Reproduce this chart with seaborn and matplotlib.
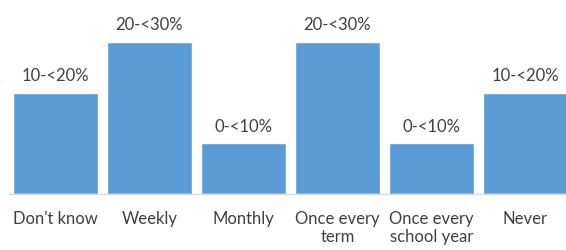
import matplotlib
matplotlib.use("Agg")
import matplotlib.pyplot as plt
import seaborn as sns
import pandas as pd

# ==============================================================
# DATA
# ==============================================================
categories = ["Don't know", "Weekly", "Monthly", "Once every\nterm",
              "Once every\nschool year", "Never"]
heights = [20, 30, 10, 30, 10, 20]
range_labels = ["10-<20%", "20-<30%", "0-<10%", "20-<30%", "0-<10%", "10-<20%"]

df = pd.DataFrame({"category": categories, "value": heights})

# ==============================================================
# PLOT
# ==============================================================
sns.set_style("white")
plt.rcParams['font.family'] = ['Lato', 'DejaVu Sans']

fig = plt.figure(figsize=(5.66, 2.5), dpi=100)
ax = fig.add_axes([8.5 / 566, 56 / 250, 564 / 566, 194 / 250])

sns.barplot(data=df, x="category", y="value", color="#5B9BD5",
            saturation=1, width=0.9, ax=ax)

for i, (h, lab) in enumerate(zip(heights, range_labels)):
    ax.text(i, h + 1.7, lab, ha="center", va="bottom",
            fontsize=12, color="#404040")

ax.set_xlim(-0.5, 5.5)
ax.set_ylim(0, 30 * 194 / 152)
ax.set_xlabel("")
ax.set_ylabel("")
ax.set_yticks([])
ax.tick_params(axis="x", length=0, pad=12, labelsize=12, labelcolor="#404040")
for lbl in ax.get_xticklabels():
    lbl.set_va("top")
    lbl.set_linespacing(1.15)

for side in ["top", "left", "right"]:
    ax.spines[side].set_visible(False)
ax.spines["bottom"].set_color("#d9d9d9")
ax.spines["bottom"].set_linewidth(1)

fig.savefig("out.png", dpi=100)
